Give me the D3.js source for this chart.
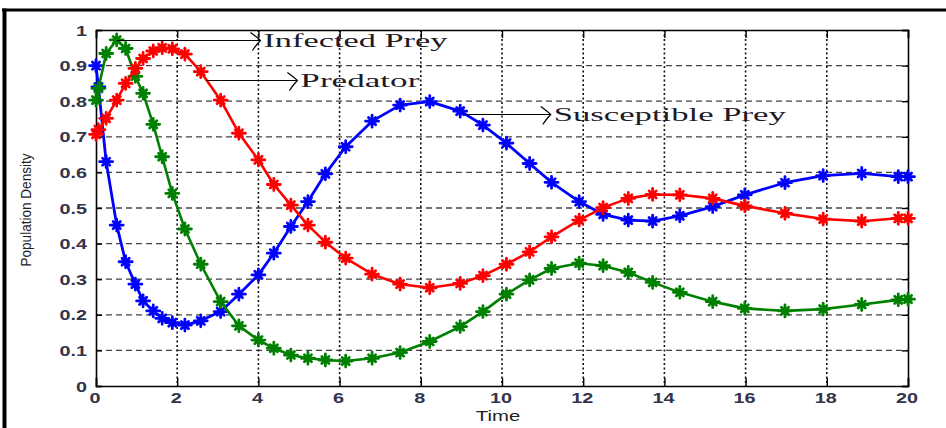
<!DOCTYPE html>
<html><head><meta charset="utf-8">
<script src="https://cdn.jsdelivr.net/npm/d3@7/dist/d3.min.js"></script>
<style>html,body{margin:0;padding:0;background:#fff;}svg{display:block;}</style>
</head><body>
<svg id="c" width="946" height="428"></svg>
<script>
// ---- data ----
const time = [0, 0.06, 0.25, 0.51, 0.73, 0.97, 1.16, 1.41, 1.63, 1.88,
  2.19, 2.58, 3.07, 3.52, 4.0, 4.38, 4.8, 5.22, 5.65, 6.15,
  6.8, 7.49, 8.22, 8.97, 9.53, 10.11, 10.68, 11.22, 11.9, 12.49,
  13.11, 13.71, 14.38, 15.19, 15.98, 16.97, 17.91, 18.86, 19.76, 20];
const susceptiblePrey = [0.90, 0.84, 0.63, 0.452, 0.349, 0.286, 0.239, 0.211, 0.190, 0.178,
  0.171, 0.183, 0.209, 0.258, 0.312, 0.373, 0.448, 0.518, 0.596, 0.672,
  0.744, 0.789, 0.799, 0.772, 0.733, 0.682, 0.625, 0.572, 0.518, 0.482,
  0.466, 0.463, 0.478, 0.504, 0.537, 0.571, 0.591, 0.597, 0.588, 0.588];
const infectedPrey = [0.803, 0.836, 0.934, 0.972, 0.948, 0.87, 0.822, 0.735, 0.644, 0.541,
  0.441, 0.342, 0.237, 0.169, 0.129, 0.106, 0.087, 0.078, 0.073, 0.070,
  0.078, 0.094, 0.125, 0.167, 0.209, 0.258, 0.298, 0.330, 0.345, 0.338,
  0.319, 0.291, 0.263, 0.237, 0.218, 0.211, 0.216, 0.229, 0.242, 0.244];
const predator = [0.707, 0.72, 0.752, 0.803, 0.850, 0.892, 0.920, 0.941, 0.950, 0.947,
  0.932, 0.883, 0.803, 0.710, 0.635, 0.566, 0.508, 0.452, 0.404, 0.359,
  0.314, 0.286, 0.276, 0.288, 0.310, 0.342, 0.377, 0.419, 0.466, 0.501,
  0.527, 0.538, 0.537, 0.527, 0.506, 0.485, 0.469, 0.463, 0.471, 0.471];
const xTicks = [0, 2, 4, 6, 8, 10, 12, 14, 16, 18, 20];
const yTicks = [0, 0.1, 0.2, 0.3, 0.4, 0.5, 0.6, 0.7, 0.8, 0.9, 1];
const yTickLabels = ["0", "0.1", "0.2", "0.3", "0.4", "0.5", "0.6", "0.7", "0.8", "0.9", "1"];
const seriesNames = ["Susceptible Prey", "Infected Prey", "Predator"];
const annotations = [
  {label: "Infected Prey", t: 0.51, v: 0.972, tipT: 4.05, textW: 184},
  {label: "Predator", t: 2.72, v: 0.86, tipT: 4.96, textW: 119},
  {label: "Susceptible Prey", t: 9.1, v: 0.765, tipT: 11.2, textW: 232}
];

// ---- layout ----
const L = 96, R = 908, T = 30, B = 386;
const svg = d3.select("#c");
const x = d3.scaleLinear().domain([0, 20]).range([L, R]);
const y = d3.scaleLinear().domain([0, 1]).range([B, T]);

// outer frame (top + left)
svg.append("line").attr("x1", 2).attr("x2", 946).attr("y1", 10).attr("y2", 10)
  .attr("stroke", "#000").attr("stroke-width", 3);
svg.append("line").attr("x1", 4.5).attr("x2", 4.5).attr("y1", 8.5).attr("y2", 428)
  .attr("stroke", "#000").attr("stroke-width", 4);

// grid
const g = svg.append("g");
g.selectAll(".hg").data(yTicks.slice(1, -1)).join("line")
  .attr("x1", L).attr("x2", R).attr("y1", d => y(d)).attr("y2", d => y(d))
  .attr("stroke", "#444").attr("stroke-width", 1.3).attr("stroke-dasharray", "6,4");
g.selectAll(".vg").data(xTicks.slice(1, -1)).join("line")
  .attr("y1", T).attr("y2", B).attr("x1", d => x(d)).attr("x2", d => x(d))
  .attr("stroke", "#111").attr("stroke-width", 1.6).attr("stroke-dasharray", "2,2.5");

// axes (inward ticks)
const fontAx = "'Liberation Sans', Arial, sans-serif";
const xb = svg.append("g").attr("transform", `translate(0,${B})`)
  .call(d3.axisBottom(x).tickValues(xTicks).tickSize(-8).tickFormat(""));
const xt = svg.append("g").attr("transform", `translate(0,${T})`)
  .call(d3.axisTop(x).tickValues(xTicks).tickSize(-8).tickFormat(""));
const yl = svg.append("g").attr("transform", `translate(${L},0)`)
  .call(d3.axisLeft(y).tickValues(yTicks).tickSize(-6).tickFormat(""));
const yr = svg.append("g").attr("transform", `translate(${R},0)`)
  .call(d3.axisRight(y).tickValues(yTicks).tickSize(-6).tickFormat(""));
[xb, xt, yl, yr].forEach(a => {
  a.selectAll("path.domain").attr("stroke", "#000").attr("stroke-width", 1.6);
  a.selectAll(".tick line").attr("stroke", "#000").attr("stroke-width", 1.4);
});

// tick labels (stretched like the reference)
const sx = 1.32;
yTicks.forEach((v, i) => {
  svg.append("text").text(yTickLabels[i])
    .attr("transform", `translate(${L - 9},${y(v) + 5.5}) scale(${sx},1)`)
    .attr("text-anchor", "end").attr("font-family", fontAx).attr("font-size", 15)
    .attr("font-weight", "bold").attr("fill", "#33334a");
});
xTicks.forEach(v => {
  svg.append("text").text(v)
    .attr("transform", `translate(${x(v) - 1},${B + 17}) scale(${sx},1)`)
    .attr("text-anchor", "middle").attr("font-family", fontAx).attr("font-size", 15)
    .attr("font-weight", "bold").attr("fill", "#33334a");
});
svg.append("text").text("Time")
  .attr("transform", `translate(${(L + R) / 2 - 4},${B + 35}) scale(1.45,1)`)
  .attr("text-anchor", "middle").attr("font-family", fontAx).attr("font-size", 14)
  .attr("fill", "#222");
svg.append("text").text("Population Density")
  .attr("transform", `translate(31,210) rotate(-90)`)
  .attr("text-anchor", "middle").attr("font-family", fontAx).attr("font-size", 14)
  .attr("textLength", 113).attr("lengthAdjust", "spacingAndGlyphs")
  .attr("fill", "#222");

// series
const series = [
  {name: seriesNames[0], vals: susceptiblePrey, color: "#0000ff", w: 2.8},
  {name: seriesNames[1], vals: infectedPrey, color: "#008000", w: 2.6},
  {name: seriesNames[2], vals: predator, color: "#ff0000", w: 2.6}
];
const line = d3.line().x(d => x(d[0])).y(d => y(d[1]));
const r = 6.5, rv = 6, dd = 3.6;
const star = `M${-r},0L${r},0M0,${-rv}L0,${rv}M${-dd},${-dd}L${dd},${dd}M${-dd},${dd}L${dd},${-dd}`;
series.forEach(s => {
  const pts = time.map((t, i) => [t, s.vals[i]]);
  svg.append("path").datum(pts).attr("d", line).attr("fill", "none")
    .attr("stroke", s.color).attr("stroke-width", s.w).attr("stroke-linejoin", "round");
  const mk = svg.append("g").selectAll("g").data(pts).join("g")
    .attr("transform", d => `translate(${x(d[0])},${y(d[1])})`);
  mk.append("path").attr("d", star).attr("stroke", s.color).attr("stroke-width", 2.8)
    .attr("stroke-linecap", "round").attr("fill", "none");
  mk.append("circle").attr("r", 3.2).attr("fill", s.color);
});

// annotations
annotations.forEach(a => {
  const x0 = x(a.t), yy = Math.round(y(a.v)) + 0.5, tip = x(a.tipT);
  svg.append("line").attr("x1", x0).attr("x2", tip).attr("y1", yy).attr("y2", yy)
    .attr("stroke", "#000").attr("stroke-width", 1.1);
  svg.append("path").attr("d", `M${tip - 10},${yy - 8} Q${tip - 3},${yy - 3} ${tip},${yy} Q${tip - 4},${yy + 4} ${tip - 8},${yy + 10}`)
    .attr("fill", "none").attr("stroke", "#000").attr("stroke-width", 1.2);
  svg.append("text").text(a.label)
    .attr("x", tip + 3).attr("y", yy + 6)
    .attr("font-family", "'Liberation Serif', 'Times New Roman', serif").attr("font-size", 18)
    .attr("textLength", a.textW).attr("lengthAdjust", "spacingAndGlyphs")
    .attr("fill", "#1e1a28");
});
</script>
</body></html>
